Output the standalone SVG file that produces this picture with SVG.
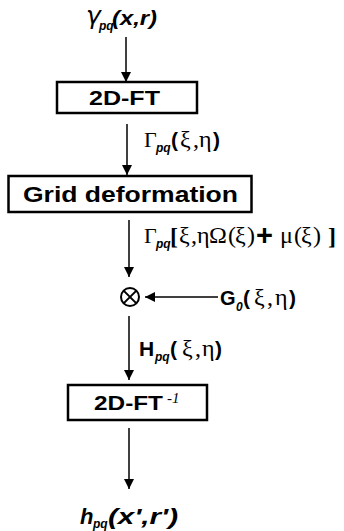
<svg xmlns="http://www.w3.org/2000/svg" width="344" height="531" viewBox="0 0 344 531">
<style>
.b{font-family:"Liberation Sans",Arial,sans-serif;font-weight:bold;fill:#000}
.bi{font-family:"Liberation Sans",Arial,sans-serif;font-weight:bold;font-style:italic;fill:#000}
.sub{font-family:"Liberation Sans",Arial,sans-serif;font-weight:bold;font-style:italic;font-size:12px;fill:#000}
.g{font-family:"Liberation Serif","Times New Roman",serif;font-size:24px;fill:#000}
.G{font-family:"Liberation Serif","Times New Roman",serif;font-size:22px;fill:#000}
.box{fill:#fff;stroke:#000;stroke-width:2.5}
.ln{stroke:#000;stroke-width:1.5;fill:none}
</style>
<defs>
<marker id="ah" markerWidth="10" markerHeight="10" refX="10" refY="5" orient="auto" markerUnits="userSpaceOnUse"><path d="M0,0 L10,5 L0,10 Z" fill="#000"/></marker>
</defs>
<g id="connectors">
<line class="ln" x1="126" y1="37" x2="126" y2="82" marker-end="url(#ah)"/>
<line class="ln" x1="127" y1="124" x2="127" y2="175" marker-end="url(#ah)"/>
<line class="ln" x1="129" y1="220" x2="129" y2="277" marker-end="url(#ah)"/>
<line class="ln" x1="218" y1="297" x2="145" y2="297" marker-end="url(#ah)"/>
<line class="ln" x1="129" y1="316" x2="129" y2="380" marker-end="url(#ah)"/>
<line class="ln" x1="129" y1="428" x2="129" y2="489" marker-end="url(#ah)"/>
</g>
<g id="input">
<text x="86" y="24" font-family="'DejaVu Sans',sans-serif" font-style="italic" font-size="25" fill="#000">γ</text>
<text class="sub" x="99" y="30">pq</text>
<text class="bi" x="112" y="25" font-size="21" textLength="45" lengthAdjust="spacingAndGlyphs">(x,r)</text>
</g>
<g id="ft">
<rect class="box" x="57" y="82" width="140" height="31"/>
<text class="b" x="89" y="105" font-size="20" textLength="71" lengthAdjust="spacingAndGlyphs">2D-FT</text>
</g>
<g id="label-gamma">
<text class="G" x="144" y="147">Γ</text>
<text class="sub" x="156" y="152">pq</text>
<text class="b" x="171" y="147" font-size="21">(</text>
<text class="g" x="180" y="147">ξ</text>
<text class="g" x="193" y="147">,</text>
<text class="g" x="199" y="147">η</text>
<text class="b" x="213" y="147" font-size="21">)</text>
</g>
<g id="grid">
<rect class="box" x="8.5" y="176" width="243" height="36"/>
<text class="b" x="23" y="202" font-size="22" textLength="215" lengthAdjust="spacingAndGlyphs">Grid deformation</text>
</g>
<g id="label-deformed">
<text class="G" x="144" y="243">Γ</text>
<text class="sub" x="156" y="248">pq</text>
<text class="g" x="170" y="244" font-size="29" font-weight="bold">[</text>
<text class="g" x="179" y="243">ξ</text>
<text class="g" x="191" y="243">,</text>
<text class="g" x="197" y="243">η</text>
<text class="g" x="209" y="243">Ω</text>
<text class="g" x="228" y="243">(</text>
<text class="g" x="235" y="243">ξ</text>
<text class="g" x="247" y="243">)</text>
<text class="b" x="256" y="245" font-size="29">+</text>
<text class="g" x="280" y="243">μ</text>
<text class="g" x="294" y="243">(</text>
<text class="g" x="301" y="243">ξ</text>
<text class="g" x="313" y="243">)</text>
<text class="g" x="328" y="244" font-size="29" font-weight="bold">]</text>
</g>
<g id="mult">
<circle cx="130" cy="297" r="9" fill="none" stroke="#000" stroke-width="2"/>
<path d="M123.6,290.6 L136.4,303.4 M136.4,290.6 L123.6,303.4" stroke="#000" stroke-width="2"/>
</g>
<g id="label-g0">
<text class="b" x="220" y="305" font-size="20">G</text>
<text class="sub" x="236" y="311">0</text>
<text class="b" x="243" y="305" font-size="21">(</text>
<text class="g" x="254" y="305">ξ</text>
<text class="g" x="267" y="305">,</text>
<text class="g" x="275" y="305">η</text>
<text class="b" x="289" y="305" font-size="21">)</text>
</g>
<g id="label-h">
<text class="b" x="139" y="356" font-size="21">H</text>
<text class="sub" x="155" y="361">pq</text>
<text class="b" x="170" y="356" font-size="21">(</text>
<text class="g" x="182" y="356">ξ</text>
<text class="g" x="195" y="356">,</text>
<text class="g" x="202" y="356">η</text>
<text class="b" x="215" y="356" font-size="21">)</text>
</g>
<g id="ift">
<rect class="box" x="68" y="385" width="139" height="35"/>
<text class="b" x="94" y="410" font-size="20" textLength="69" lengthAdjust="spacingAndGlyphs">2D-FT</text>
<text x="167" y="403" font-family="'Liberation Serif',serif" font-style="italic" font-size="15">-1</text>
</g>
<g id="output">
<text class="bi" x="80" y="524" font-size="22">h</text>
<text class="sub" x="93" y="528">pq</text>
<text class="bi" x="108" y="524" font-size="22" textLength="70" lengthAdjust="spacingAndGlyphs">(x',r')</text>
</g>
</svg>
